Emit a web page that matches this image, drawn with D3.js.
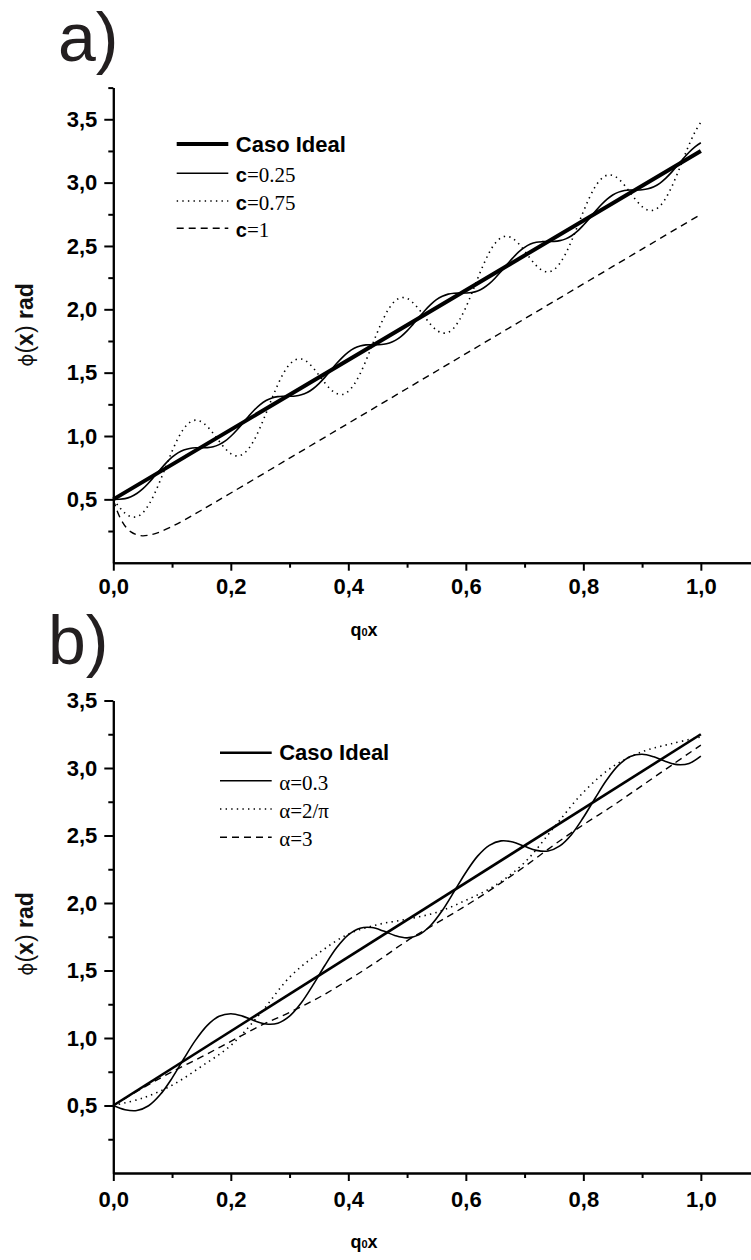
<!DOCTYPE html>
<html>
<head>
<meta charset="utf-8">
<script src="https://cdnjs.cloudflare.com/ajax/libs/d3/7.8.5/d3.min.js"></script>
<style>
body { margin: 0; background: #fff; }
svg { display: block; font-family: "Liberation Sans", Arial, sans-serif; }
</style>
</head>
<body>
<svg id="chart" width="751" height="1260"></svg>
<script>
// ---- data ----
var idealX = [0, 1.0];
var idealY = [0.5, 3.25];

// panel a, sampled every 0.01
var fineX = d3.range(0, 101).map(function(i){ return i / 100; });
var c025 = [0.5,0.501,0.506,0.521,0.546,0.582,0.629,0.682,0.736,0.788,
  0.833,0.867,0.890,0.902,0.907,0.907,0.908,0.915,0.932,0.959,
  0.998,1.046,1.099,1.154,1.205,1.248,1.280,1.300,1.311,1.314,
  1.314,1.316,1.325,1.343,1.373,1.414,1.463,1.517,1.572,1.621,
  1.662,1.692,1.710,1.719,1.721,1.721,1.724,1.735,1.755,1.787,
  1.830,1.881,1.935,1.989,2.037,2.076,2.103,2.120,2.127,2.128,
  2.129,2.133,2.145,2.168,2.202,2.247,2.299,2.353,2.406,2.453,
  2.489,2.515,2.529,2.534,2.535,2.536,2.542,2.556,2.581,2.617,
  2.664,2.716,2.771,2.823,2.868,2.902,2.925,2.938,2.942,2.942,
  2.944,2.951,2.967,2.994,3.033,3.081,3.134,3.189,3.240,3.283,
  3.315];
var c075 = [0.5,0.440,0.391,0.363,0.363,0.393,0.455,0.543,0.650,0.765,
  0.879,0.980,1.058,1.107,1.125,1.113,1.075,1.021,0.960,0.903,
  0.861,0.843,0.855,0.898,0.971,1.068,1.180,1.296,1.405,1.498,
  1.565,1.602,1.608,1.585,1.539,1.480,1.420,1.368,1.335,1.328,
  1.353,1.408,1.491,1.595,1.710,1.825,1.929,2.012,2.068,2.092,
  2.086,2.052,2.001,1.940,1.881,1.836,1.813,1.818,1.855,1.923,
  2.015,2.125,2.241,2.352,2.449,2.522,2.565,2.577,2.559,2.517,
  2.461,2.399,2.345,2.308,2.295,2.313,2.363,2.441,2.541,2.655,
  2.771,2.877,2.966,3.027,3.058,3.057,3.029,2.980,2.920,2.860,
  2.811,2.783,2.783,2.813,2.875,2.963,3.070,3.185,3.299,3.400,
  3.478];
var c1X = [0,0.005,0.01,0.015,0.02,0.03,0.04,0.05,0.06,0.07,0.08,0.1,0.12,0.15,0.2,0.3,0.4,0.5,0.6,0.7,0.8,0.9,1.0];
var c1 = [0.5,0.428,0.370,0.325,0.290,0.243,0.220,0.212,0.217,0.228,0.244,0.286,0.335,0.414,0.550,0.825,1.1,1.375,1.65,1.925,2.2,2.475,2.75];

// panel b
var midX = d3.range(0, 51).map(function(i){ return i / 50; });
var a03 = [0.5,0.469,0.463,0.498,0.581,0.703,0.846,0.984,1.094,1.161,
  1.180,1.162,1.128,1.104,1.110,1.162,1.261,1.393,1.537,1.668,
  1.764,1.813,1.818,1.792,1.758,1.742,1.764,1.833,1.945,2.084,
  2.226,2.347,2.427,2.460,2.452,2.420,2.390,2.385,2.423,2.508,
  2.633,2.776,2.913,3.021,3.085,3.102,3.083,3.049,3.025,3.034,
  3.088];
var coarseX = d3.range(0, 21).map(function(i){ return i / 20; });
var a2pi = [0.5,0.555,0.65,0.79,0.945,1.18,1.45,1.63,1.77,1.84,1.88,1.93,2.02,2.13,2.30,2.56,2.82,3.01,3.12,3.18,3.23];
var a3 = [0.5,0.63,0.75,0.86,0.975,1.09,1.19,1.30,1.43,1.57,1.72,1.85,1.98,2.12,2.27,2.43,2.58,2.72,2.87,3.02,3.17];

// ticks
var xMajor = [0, 0.2, 0.4, 0.6, 0.8, 1.0];
var xMinor = [0.1, 0.3, 0.5, 0.7, 0.9];
var yMajor = [0.5, 1.0, 1.5, 2.0, 2.5, 3.0, 3.5];
var yMinorA = [0.25, 0.75, 1.25, 1.75, 2.25, 2.75, 3.25, 3.75];
var yMinorB = [0.25, 0.75, 1.25, 1.75, 2.25, 2.75, 3.25];

// ---- styles ----
var lineStyles = {
  idealA: {w: 4, dash: null},
  idealB: {w: 2.6, dash: null},
  solid:  {w: 1.6, dash: null},
  dotted: {w: 1.6, dash: "1.4,4.2"},
  dashed: {w: 1.4, dash: "7,5"}
};

var panels = [
  {name: "a", label: "a)", labelX: 58, labelY: 61,
   yDomain: [0, 3.75], yTop: 87.6, yBottom: 562.7, yMinor: yMinorA,
   xPad: 7.6, titleY: 636, yTitleY: 325,
   legendY: [144, 173.3, 201, 228.3], legendX: 176.7, legendW: 51.6,
   series: [
     {x: c1X, y: c1, s: "dashed"},
     {x: fineX, y: c075, s: "dotted"},
     {x: fineX, y: c025, s: "solid"},
     {x: idealX, y: idealY, s: "idealA"}
   ],
   legend: [
     {s: "idealA", parts: [["Caso Ideal", "sb"]]},
     {s: "solid", parts: [["c", "sb"], ["=0.25", "serif"]]},
     {s: "dotted", parts: [["c", "sb"], ["=0.75", "serif"]]},
     {s: "dashed", parts: [["c", "sb"], ["=1", "serif"]]}
   ]},
  {name: "b", label: "b)", labelX: 48, labelY: 664,
   yDomain: [0, 3.5], yTop: 700.5, yBottom: 1173, yMinor: yMinorB,
   xPad: 10.7, titleY: 1248, yTitleY: 934,
   legendY: [752.7, 780.7, 809, 837.3], legendX: 220, legendW: 51.7,
   series: [
     {x: coarseX, y: a3, s: "dashed"},
     {x: coarseX, y: a2pi, s: "dotted"},
     {x: midX, y: a03, s: "solid"},
     {x: idealX, y: idealY, s: "idealB"}
   ],
   legend: [
     {s: "idealB", parts: [["Caso Ideal", "sb"]]},
     {s: "solid", parts: [["\u03B1=0.3", "serif"]]},
     {s: "dotted", parts: [["\u03B1=2/\u03C0", "serif"]]},
     {s: "dashed", parts: [["\u03B1=3", "serif"]]}
   ]}
];

var svg = d3.select("#chart");
var fmt = function(d){ return d3.format(".1f")(d).replace(".", ","); };

panels.forEach(drawPanel);

function styleAxis(g) {
  g.selectAll("path, line").attr("stroke", "#000").attr("stroke-width", 2);
  g.selectAll("text")
    .attr("fill", "#000")
    .attr("font-family", "'Liberation Sans', Arial, sans-serif")
    .attr("font-weight", "bold")
    .attr("font-size", 22);
}

function drawPanel(p) {
  var g = svg.append("g").attr("class", "panel-" + p.name);
  var x = d3.scaleLinear().domain([0, 1.1]).range([113.3, 759.6]);
  var y = d3.scaleLinear().domain(p.yDomain).range([p.yBottom, p.yTop]);

  // panel letter
  g.append("text")
    .attr("x", p.labelX).attr("y", p.labelY)
    .attr("font-size", 68)
    .attr("fill", "#231f20")
    .text(p.label);

  // curves
  var line = d3.line()
    .x(function(d){ return x(d[0]); })
    .y(function(d){ return y(d[1]); })
    .curve(d3.curveCatmullRom.alpha(0.5));
  g.selectAll("path.curve")
    .data(p.series)
    .enter()
    .append("path")
      .attr("class", "curve")
      .attr("fill", "none")
      .attr("stroke", "#000")
      .attr("stroke-linejoin", "round")
      .attr("stroke-width", function(d){ return lineStyles[d.s].w; })
      .attr("stroke-dasharray", function(d){ return lineStyles[d.s].dash; })
      .attr("d", function(d){ return line(d3.zip(d.x, d.y)); });

  // axes
  var ax = "translate(113.3,0)";
  g.append("g").attr("transform", ax)
    .call(d3.axisLeft(y).tickValues(p.yMinor).tickSize(5).tickSizeOuter(0).tickFormat(""))
    .call(styleAxis);
  g.append("g").attr("transform", ax)
    .call(d3.axisLeft(y).tickValues(yMajor).tickSize(9).tickPadding(7).tickSizeOuter(0).tickFormat(fmt))
    .call(styleAxis);
  var bx = "translate(0," + p.yBottom + ")";
  g.append("g").attr("transform", bx)
    .call(d3.axisBottom(x).tickValues(xMinor).tickSize(5).tickSizeOuter(0).tickFormat(""))
    .call(styleAxis);
  g.append("g").attr("transform", bx)
    .call(d3.axisBottom(x).tickValues(xMajor).tickSize(8).tickPadding(p.xPad).tickSizeOuter(0).tickFormat(fmt))
    .call(styleAxis);

  // x title q0x
  var xt = g.append("text")
    .attr("x", 364).attr("y", p.titleY)
    .attr("text-anchor", "middle")
    .attr("font-weight", "bold")
    .attr("font-size", 18)
    .attr("fill", "#000");
  xt.append("tspan").text("q");
  xt.append("tspan").attr("font-size", 11).text("0");
  xt.append("tspan").text("x");

  // y title
  var yt = g.append("text")
    .attr("transform", "translate(33," + p.yTitleY + ") rotate(-90)")
    .attr("text-anchor", "middle")
    .attr("font-size", 23)
    .attr("fill", "#111");
  yt.append("tspan").attr("font-family", "'DejaVu Sans', sans-serif").attr("font-size", 20).text("\u03D5");
  yt.append("tspan").text("(");
  yt.append("tspan").attr("font-weight", "bold").text("x");
  yt.append("tspan").text(")");
  yt.append("tspan").attr("font-weight", "bold").text(" rad");

  // legend
  p.legend.forEach(function(item, i){
    var ly = p.legendY[i];
    var st = lineStyles[item.s];
    g.append("line")
      .attr("x1", p.legendX).attr("x2", p.legendX + p.legendW)
      .attr("y1", ly).attr("y2", ly)
      .attr("stroke", "#000")
      .attr("stroke-width", st.w)
      .attr("stroke-dasharray", st.dash);
    var t = g.append("text")
      .attr("x", p.legendX + p.legendW + 7.5)
      .attr("y", ly + (i == 0 ? 7.7 : 8.8))
      .attr("fill", "#000");
    item.parts.forEach(function(part){
      var ts = t.append("tspan").text(part[0]);
      if (part[1] == "sb") {
        ts.attr("font-weight", "bold").attr("font-size", i == 0 ? 22 : 20);
      } else {
        ts.attr("font-family", "'Liberation Serif', 'Times New Roman', serif").attr("font-size", 21);
      }
    });
  });
}
</script>
</body>
</html>
